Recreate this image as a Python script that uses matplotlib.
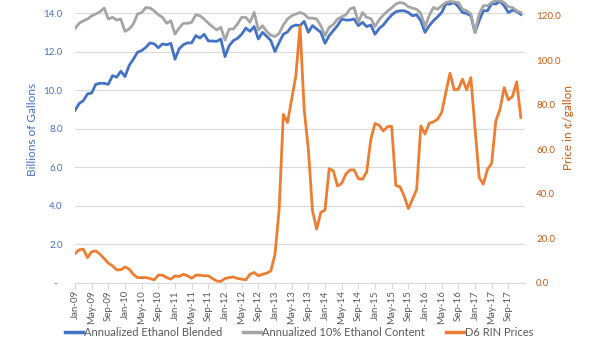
import numpy as np
import pandas as pd
import matplotlib
matplotlib.use("Agg")
import matplotlib.pyplot as plt
from matplotlib.lines import Line2D

plt.rcParams["font.family"] = ["Lato", "DejaVu Sans"]

# monthly, Jan-09 .. Dec-17
months = pd.date_range("2009-01-01", periods=108, freq="MS")
month_labels = [d.strftime("%b-%y") for d in months]

# billions of gallons
ethanol_blended = [
    8.95, 9.3, 9.45, 9.8, 9.85, 10.3, 10.35, 10.35, 10.3, 10.75, 10.67, 10.98,
    10.7, 11.28, 11.6, 11.97, 12.05, 12.22, 12.45, 12.4, 12.2, 12.4, 12.35, 12.43,
    11.6, 12.14, 12.36, 12.45, 12.45, 12.83, 12.7, 12.9, 12.55, 12.55, 12.53, 12.65,
    11.74, 12.3, 12.57, 12.69, 12.9, 13.22, 13.05, 13.3, 12.65, 13.0, 12.8, 12.57,
    12.0, 12.48, 12.9, 13.02, 13.3, 13.38, 13.35, 13.57, 13.0, 13.35, 13.17, 13.0,
    12.43, 12.83, 13.09, 13.35, 13.69, 13.64, 13.64, 13.69, 13.35, 13.52, 13.3, 13.38,
    12.9, 13.2, 13.38, 13.66, 13.9, 14.07, 14.12, 14.12, 14.03, 13.86, 13.91, 13.6,
    13.0, 13.34, 13.6, 13.8, 14.03, 14.47, 14.47, 14.55, 14.33, 14.03, 13.98, 13.86,
    13.0, 13.6, 14.12, 14.12, 14.5, 14.47, 14.62, 14.38, 14.03, 14.15, 14.09, 13.93,
]
ethanol_10pct = [
    13.2, 13.47, 13.6, 13.69, 13.86, 13.95, 14.07, 14.26, 13.69, 13.78, 13.64, 13.69,
    13.05, 13.17, 13.43, 13.95, 14.03, 14.29, 14.26, 14.12, 13.91, 13.78, 13.47, 13.6,
    12.91, 13.22, 13.47, 13.47, 13.52, 13.91, 13.86, 13.69, 13.47, 13.29, 13.12, 13.26,
    12.6, 13.17, 13.17, 13.43, 13.78, 13.78, 13.52, 14.03, 13.12, 13.34, 13.05, 12.85,
    12.78, 12.95, 13.38, 13.69, 13.86, 13.95, 14.03, 13.95, 13.74, 13.74, 13.69, 13.34,
    12.83, 13.26, 13.4, 13.69, 13.81, 13.91, 14.21, 14.29, 13.52, 14.03, 13.78, 13.72,
    13.3, 13.65, 13.9, 14.1, 14.27, 14.47, 14.55, 14.5, 14.33, 14.26, 14.2, 13.98,
    13.3, 13.86, 14.29, 14.2, 14.38, 14.55, 14.6, 14.58, 14.55, 14.2, 14.12, 13.95,
    13.0, 13.95, 14.38, 14.38, 14.55, 14.65, 14.65, 14.55, 14.33, 14.29, 14.12, 14.03,
]
# cents per gallon
d6_rin = [
    13.0, 14.7, 15.0, 11.2, 13.8, 14.2, 12.7, 10.8, 8.7, 7.5, 5.7, 5.7,
    7.0, 6.0, 3.7, 2.2, 2.2, 2.2, 1.8, 1.2, 3.3, 3.3, 2.2, 1.5,
    3.0, 2.7, 3.7, 3.0, 1.9, 3.3, 3.3, 3.0, 3.0, 1.8, 0.7, 0.5,
    1.8, 2.2, 2.5, 1.8, 1.5, 1.2, 3.7, 4.5, 3.0, 3.7, 4.2, 5.2,
    12.7, 33.0, 75.6, 71.9, 82.4, 92.9, 115.3, 77.9, 59.9, 32.2, 24.0, 31.5,
    32.6, 51.2, 50.2, 43.4, 44.6, 48.7, 50.6, 50.6, 46.7, 46.4, 49.7, 64.4,
    71.5, 70.7, 68.1, 70.1, 70.2, 43.6, 43.0, 38.9, 33.2, 37.4, 41.9, 70.4,
    66.7, 71.6, 72.2, 73.4, 76.4, 85.4, 94.1, 86.6, 86.9, 91.4, 86.6, 92.1,
    69.5, 47.2, 44.2, 50.9, 53.6, 72.6, 77.9, 87.6, 82.1, 83.6, 90.2, 74.2,
]

left_ticks = [0, 2, 4, 6, 8, 10, 12, 14]
right_ticks = [0, 20, 40, 60, 80, 100, 120]

blue = "#4472C4"
grey = "#A5A5A5"
orange = "#ED7D31"
grid_col = "#D9D9D9"

fig = plt.figure(figsize=(6, 3.4), dpi=100)
ax = fig.add_axes([75 / 600, 1 - 282.5 / 340, 450 / 600, 282.5 / 340])
ax2 = ax.twinx()

x = np.arange(len(months))
ax.plot(x, ethanol_blended, color=blue, lw=2, solid_joinstyle="round")
ax.plot(x, ethanol_10pct, color=grey, lw=2, solid_joinstyle="round")
ax2.plot(x, d6_rin, color=orange, lw=2, solid_joinstyle="round")

ax.set_xlim(0, 108)
ax.set_ylim(0, 14.68)
ax2.set_ylim(0, 127)

# left axis
ax.set_yticks(left_ticks)
ax.set_yticklabels(["-  "] + ["%.1f" % v for v in left_ticks[1:]])
ax.tick_params(axis="y", length=0, pad=9, labelsize=7, labelcolor=blue)
ax.yaxis.grid(True, color=grid_col, lw=0.8)
ax.set_axisbelow(True)

# right axis
ax2.set_yticks(right_ticks)
ax2.set_yticklabels(["%.1f" % v for v in right_ticks])
ax2.tick_params(axis="y", length=0, pad=8, labelsize=7, labelcolor="#C55A11")

# x axis
ax.set_xticks(x[::4])
ax.set_xticklabels(month_labels[::4], rotation=90)
ax.tick_params(axis="x", length=4, width=0.8, color=grid_col, pad=1.5,
               labelsize=7, labelcolor="#595959")

for a in (ax, ax2):
    for s in ("top", "left", "right"):
        a.spines[s].set_visible(False)
ax2.spines["bottom"].set_visible(False)
ax.spines["bottom"].set_color(grid_col)
ax.spines["bottom"].set_linewidth(0.8)

fig.text(32 / 600, 1 - 130 / 340, "Billions of Gallons", rotation=90,
         ha="center", va="center", color=blue, fontsize=8.5)
fig.text(569 / 600, 1 - 128 / 340, "Price in ¢/gallon", rotation=90,
         ha="center", va="center", color="#C55A11", fontsize=8.5)

handles = [Line2D([], [], color=c, lw=2.5) for c in (blue, grey, orange)]
names = ["Annualized Ethanol Blended", "Annualized 10% Ethanol Content", "D6 RIN Prices"]
fig.legend(handles, names, loc="center", bbox_to_anchor=(299 / 600, 1 - 332 / 340),
           ncol=3, frameon=False, fontsize=8, handlelength=1.6, handletextpad=0.1,
           columnspacing=1.9, labelcolor="#595959", borderaxespad=0, borderpad=0)

fig.savefig("out.png", dpi=100)
